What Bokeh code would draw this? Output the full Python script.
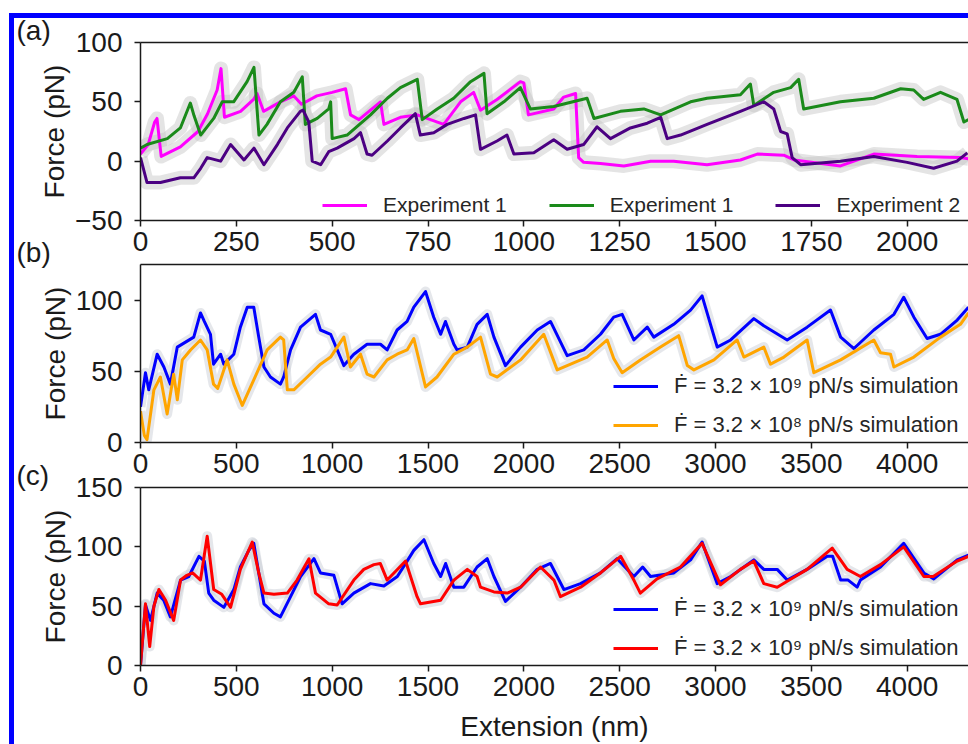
from bokeh.plotting import figure
from bokeh.models import (Range1d, FixedTicker, Legend, LegendItem,
                          LinearAxis, Div, Spacer)
from bokeh.layouts import column, row
from bokeh.embed import file_html
from bokeh.resources import INLINE

FONT = "Liberation Sans"
INK = "#1a1a1a"

# ---------------- panel (a) ----------------
a_x_ticks = [0, 250, 500, 750, 1000, 1250, 1500, 1750, 2000]
a_y_ticks = [-50, 0, 50, 100]
a_labels = ["Experiment 1", "Experiment 1", "Experiment 2"]
a_colors = ["#ff00ff", "#1a8a1a", "#4b0082"]

a1_x = [0, 20, 37, 43, 54, 104, 150, 175, 200, 210, 219, 261, 295, 304, 321, 365, 400, 420, 460, 500,
        535, 548, 570, 626, 635, 678, 722, 791, 835, 869, 887, 930, 991, 1000, 1012, 1078, 1104, 1135, 1143, 1156,
        1200, 1261, 1331, 1391, 1478, 1565, 1609, 1678, 1705, 1826, 1913, 2026, 2139, 2160]
a1_y = [6, 14, 33, 36, 4, 12, 25, 40, 60, 78, 37, 42, 52, 57, 42, 50, 55, 48, 55, 58,
        61, 39, 35, 50, 31, 37, 39, 31, 50, 58, 43, 52, 67, 66, 39, 44, 54, 57, 3, -1,
        -2, -4, 0, 0, -3, 1, 6, 5, 1, -4, 6, 4, 3, 2]

a2_x = [0, 17, 70, 104, 130, 140, 157, 191, 213, 243, 278, 296, 309, 330, 365, 400, 422, 430, 461, 491,
        496, 500, 539, 600, 644, 678, 722, 735, 774, 817, 861, 896, 904, 948, 991, 1017, 1078, 1165, 1183, 1252,
        1313, 1357, 1435, 1478, 1565, 1591, 1600, 1652, 1696, 1717, 1730, 1826, 1913, 1983, 2017, 2043, 2087, 2130,
        2148, 2160]
a2_y = [11, 14, 19, 28, 49, 38, 22, 36, 50, 50, 67, 79, 22, 31, 50, 58, 71, 31, 36, 44,
        50, 19, 22, 39, 53, 62, 69, 35, 44, 53, 67, 74, 40, 50, 62, 44, 46, 53, 36, 42,
        44, 39, 50, 53, 56, 65, 47, 58, 62, 69, 44, 50, 53, 61, 60, 52, 58, 52, 33, 35]

a3_x = [0, 17, 52, 104, 139, 157, 174, 209, 235, 270, 296, 322, 357, 383, 417, 424, 439, 448, 470, 491,
        513, 557, 574, 591, 604, 644, 678, 717, 730, 765, 800, 844, 874, 887, 930, 956, 974, 1026, 1078, 1113,
        1156, 1191, 1226, 1278, 1322, 1357, 1374, 1409, 1478, 1565, 1626, 1652, 1670, 1687, 1700, 1722, 1826, 1913,
        2000, 2069, 2130, 2157]
a3_y = [3, -18, -18, -14, -14, -6, 3, 0, 14, 1, 11, -3, 14, 28, 42, 43, 33, 0, -3, 8,
        11, 19, 24, 6, 5, 17, 28, 40, 22, 24, 31, 36, 39, 10, 17, 22, 6, 7, 18, 10,
        14, 29, 19, 28, 32, 37, 19, 22, 31, 42, 50, 44, 25, 23, 3, -3, 0, 4, -1, -6, 0, 7]

# ---------------- panels (b) and (c) ----------------
bc_x_ticks = [0, 500, 1000, 1500, 2000, 2500, 3000, 3500, 4000]
b_y_ticks = [0, 50, 100]
c_y_ticks = [0, 50, 100, 150]
b_labels = ["\u1E1E = 3.2 \u00d7 10\u2079 pN/s simulation",
            "\u1E1E = 3.2 \u00d7 10\u2078 pN/s simulation"]
c_labels = ["\u1E1E = 3.2 \u00d7 10\u2079 pN/s simulation",
            "\u1E1E = 3.2 \u00d7 10\u2079 pN/s simulation"]
panel_names = ["(a)", "(b)", "(c)"]

b1_x = [0, 26, 43, 87, 122, 156, 192, 278, 313, 333, 365, 381, 418, 435, 487, 521, 557, 591, 617, 644,
        678, 730, 747, 783, 835, 913, 939, 992, 1061, 1113, 1182, 1252, 1287, 1339, 1391, 1426, 1487, 1530, 1566, 1591,
        1635, 1652, 1705, 1756, 1809, 1844, 1904, 1983, 2070, 2139, 2226, 2313, 2400, 2469, 2513, 2574, 2644, 2678,
        2782, 2870, 2930, 3009, 3079, 3200, 3252, 3374, 3478, 3600, 3653, 3704, 3722, 3826, 3931, 3982, 4035, 4104,
        4174, 4261, 4320]
b1_y = [25, 49, 37, 62, 53, 41, 67, 74, 91, 85, 76, 55, 62, 55, 62, 81, 95, 95, 74, 53,
        46, 41, 46, 65, 81, 90, 79, 76, 54, 62, 69, 69, 65, 79, 85, 95, 106, 88, 76, 85,
        69, 65, 67, 83, 90, 74, 54, 67, 79, 85, 61, 65, 76, 88, 90, 72, 81, 74, 83, 93,
        103, 67, 72, 87, 82, 72, 81, 93, 74, 68, 66, 79, 90, 102, 88, 73, 76, 86, 95]

b2_x = [0, 20, 34, 70, 104, 139, 173, 192, 218, 261, 313, 348, 381, 403, 452, 487, 531, 591, 661, 730,
        747, 766, 800, 870, 939, 992, 1061, 1095, 1148, 1182, 1218, 1287, 1339, 1391, 1426, 1487, 1547, 1635, 1705,
        1774, 1826, 1861, 1983, 2104, 2174, 2330, 2435, 2469, 2513, 2608, 2713, 2808, 2853, 2887, 2992, 3113, 3148,
        3252, 3287, 3357, 3478, 3513, 3653, 3826, 3861, 3913, 3931, 4035, 4174, 4278, 4320]
b2_y = [22, 5, 2, 37, 46, 20, 48, 30, 58, 65, 72, 65, 41, 38, 58, 41, 26, 44, 65, 74,
        72, 37, 37, 46, 55, 60, 74, 53, 62, 48, 46, 58, 62, 65, 73, 39, 46, 62, 67, 74,
        48, 46, 58, 76, 51, 60, 72, 59, 49, 58, 67, 75, 54, 51, 58, 72, 60, 67, 55, 60,
        72, 49, 58, 72, 63, 62, 53, 60, 74, 83, 91]

c1_x = [0, 26, 52, 87, 121, 156, 209, 252, 305, 333, 356, 382, 435, 487, 521, 565, 591, 617, 644, 696,
        730, 783, 835, 905, 939, 1009, 1052, 1113, 1200, 1270, 1340, 1391, 1426, 1479, 1530, 1566, 1592, 1635, 1687,
        1756, 1809, 1844, 1904, 1983, 2070, 2139, 2209, 2296, 2400, 2487, 2574, 2620, 2661, 2783, 2870, 2930, 3009,
        3079, 3200, 3252, 3322, 3374, 3478, 3583, 3611, 3653, 3692, 3739, 3756, 3861, 3982, 4087, 4139, 4261, 4320]
c1_y = [0, 51, 38, 61, 55, 41, 72, 75, 92, 88, 61, 55, 49, 64, 83, 97, 103, 78, 52, 44,
        41, 58, 75, 90, 78, 76, 52, 61, 69, 67, 75, 88, 97, 106, 86, 75, 86, 66, 66, 83,
        90, 75, 54, 66, 81, 86, 64, 69, 78, 90, 75, 83, 75, 78, 89, 104, 69, 75, 89, 81,
        81, 72, 81, 92, 92, 72, 72, 66, 72, 83, 103, 78, 73, 89, 93]

c2_x = [0, 26, 48, 70, 96, 131, 173, 209, 242, 272, 313, 348, 382, 424, 470, 521, 583, 617, 644, 696,
        766, 817, 879, 913, 982, 1026, 1113, 1165, 1218, 1251, 1287, 1383, 1443, 1461, 1566, 1635, 1705, 1756, 1774,
        1844, 1914, 1983, 2087, 2157, 2191, 2296, 2400, 2505, 2574, 2608, 2695, 2817, 2930, 3026, 3130, 3200, 3252,
        3322, 3374, 3478, 3609, 3687, 3756, 3861, 3982, 4087, 4136, 4261, 4320]
c2_y = [0, 52, 16, 50, 64, 55, 38, 72, 76, 78, 72, 109, 64, 60, 49, 81, 104, 78, 61, 60,
        61, 72, 90, 61, 52, 51, 72, 81, 85, 86, 72, 88, 58, 52, 55, 72, 81, 75, 66, 62,
        61, 66, 83, 72, 58, 66, 78, 92, 72, 61, 73, 83, 103, 68, 81, 88, 69, 66, 71, 81,
        99, 81, 75, 85, 100, 75, 75, 88, 92]

b_colors = ["#0000ff", "#ffa500"]
c_colors = ["#0000ff", "#ff0000"]


# ---------------- helpers ----------------
def style_axis(ax):
    ax.axis_line_color = INK
    ax.axis_line_width = 1.5
    ax.major_tick_line_color = INK
    ax.major_tick_line_width = 1.5
    ax.major_tick_out = 6
    ax.major_tick_in = 0
    ax.minor_tick_line_color = None
    ax.minor_tick_out = 0
    ax.minor_tick_in = 0
    ax.major_label_text_font = FONT
    ax.major_label_text_font_size = "28px"
    ax.major_label_text_color = INK
    ax.axis_label_text_font = FONT
    ax.axis_label_text_font_size = "28px"
    ax.axis_label_text_font_style = "normal"
    ax.axis_label_text_color = INK


def base_figure(height, x_end, y_start, y_end, x_ticks, y_ticks, top, bottom, name, margin_top):
    p = figure(width=954, height=height, x_range=Range1d(0, x_end), y_range=Range1d(y_start, y_end),
               output_backend="svg", toolbar_location=None, title=name,
               min_border_left=126, min_border_right=0, min_border_top=top, min_border_bottom=bottom,
               margin=(margin_top, 0, 0, 0))
    p.outline_line_color = None
    p.xgrid.visible = False
    p.ygrid.visible = False
    p.background_fill_color = "white"
    p.border_fill_color = None
    # panel letter
    p.title.align = "left"
    p.title.offset = -124
    p.title.standoff = -6
    p.title.text_font = FONT
    p.title.text_font_size = "28px"
    p.title.text_font_style = "normal"
    p.title.text_color = INK
    # axes
    xb = p.below[0]
    yl = p.left[0]
    style_axis(xb)
    style_axis(yl)
    xb.ticker = FixedTicker(ticks=x_ticks, minor_ticks=[])
    xb.major_label_standoff = 5
    yl.ticker = FixedTicker(ticks=y_ticks, minor_ticks=[])
    yl.major_label_standoff = 12
    yl.axis_label = "Force (pN)"
    yl.axis_label_standoff = 2
    # top spine (no ticks, no labels)
    spine = LinearAxis(ticker=FixedTicker(ticks=[], minor_ticks=[]))
    style_axis(spine)
    spine.major_tick_out = 0
    spine.major_label_standoff = 0
    p.add_layout(spine, "above")
    return p, xb, yl


def style_legend(leg, size):
    leg.border_line_color = None
    leg.background_fill_alpha = 0
    leg.label_text_font = FONT
    leg.label_text_font_size = size
    leg.label_text_color = "#262626"
    leg.glyph_width = 45
    leg.glyph_height = 20
    leg.label_standoff = 16
    leg.label_height = 20
    leg.padding = 0
    leg.margin = 0


def draw(p, xs, ys, colors, band_width, band_color):
    for x, y in zip(xs, ys):
        p.line(x, y, line_color=band_color, line_width=band_width, line_alpha=0.45, line_join="round")
    rs = []
    for x, y, c in zip(xs, ys, colors):
        rs.append(p.line(x, y, line_color=c, line_width=3, line_join="round"))
    return rs


# ---------------- panel (a) ----------------
pA, xA, yA = base_figure(250, 2160, -50, 100, a_x_ticks, a_y_ticks, 30, 42, panel_names[0], -6)
yA.major_label_overrides = {-50: "\u221250"}
rA = draw(pA, [a1_x, a2_x, a3_x], [a1_y, a2_y, a3_y], a_colors, 14, "#c4c4c4")
legA = Legend(items=[LegendItem(label=l, renderers=[r]) for l, r in zip(a_labels, rA)],
              location=(182, 3), orientation="horizontal")
style_legend(legA, "21px")
legA.spacing = 42
pA.add_layout(legA)

# ---------------- panel (b) ----------------
pB, xB, yB = base_figure(254, 4320, 0, 125, bc_x_ticks, b_y_ticks, 34, 42, panel_names[1], -32)
rB = draw(pB, [b1_x, b2_x], [b1_y, b2_y], b_colors, 10, "#c5cad2")
legB = Legend(items=[LegendItem(label=l, renderers=[r]) for l, r in zip(b_labels, rB)],
              location=(473, 4), orientation="vertical")
style_legend(legB, "22px")
legB.spacing = 13
pB.add_layout(legB)

# ---------------- panel (c) ----------------
pC, xC, yC = base_figure(291, 4320, 0, 150, bc_x_ticks, c_y_ticks, 34, 79, panel_names[2], -31)
xC.axis_label = "Extension (nm)"
xC.axis_label_standoff = 12
rC = draw(pC, [c1_x, c2_x], [c1_y, c2_y], c_colors, 10, "#c5cad2")
legC = Legend(items=[LegendItem(label=l, renderers=[r]) for l, r in zip(c_labels, rC)],
              location=(473, 4), orientation="vertical")
style_legend(legC, "22px")
legC.spacing = 13
pC.add_layout(legC)

# ---------------- frame with blue border ----------------
top_bar = Div(text="", width=959, height=5, margin=0, styles={"background-color": "#0000ff"})
left_bar = Div(text="", width=5, height=726, margin=0, styles={"background-color": "#0000ff"})
figs = column(pA, pB, pC, spacing=0)
inner = column(top_bar, row(left_bar, figs, spacing=0), spacing=0)
layout = column(Spacer(width=968, height=13, margin=0),
                row(Spacer(width=9, height=731, margin=0), inner, spacing=0), spacing=0)

open("out.html", "w").write(file_html(layout, INLINE, title="Force-extension"))
